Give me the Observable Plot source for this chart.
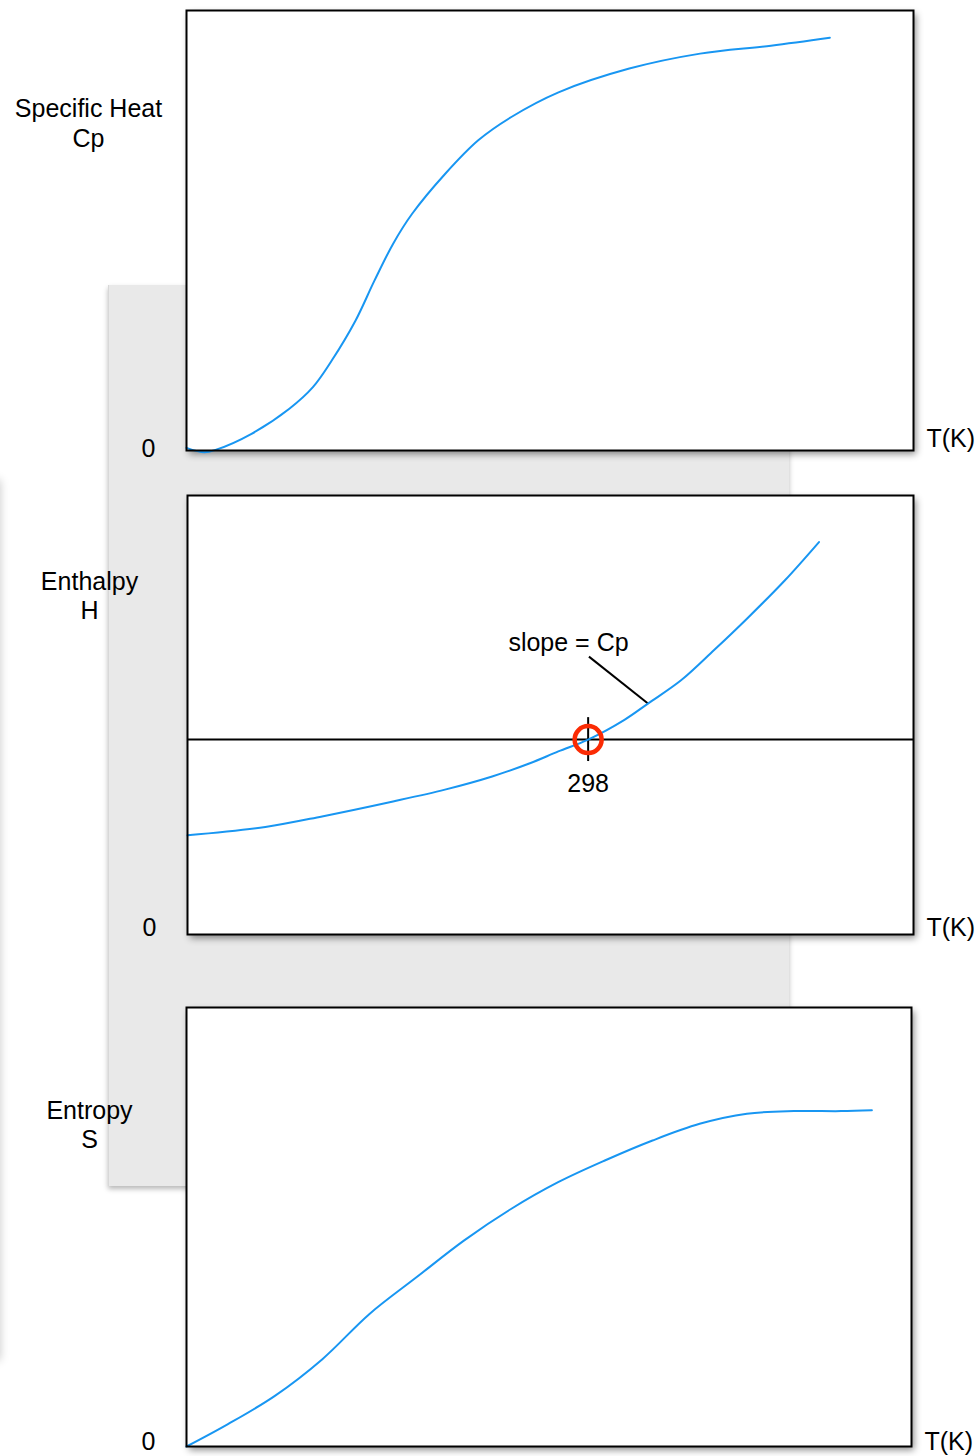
<!DOCTYPE html>
<html><head><meta charset="utf-8">
<script src="https://cdn.jsdelivr.net/npm/d3@7"></script>
<script src="https://cdn.jsdelivr.net/npm/@observablehq/plot@0.6"></script>
<style>
body{margin:0;background:#fff;}
#root{position:relative;width:979px;height:1456px;overflow:hidden;font-family:"Liberation Sans",Arial,Helvetica,sans-serif;background:#fff;}
.abs{position:absolute;}
</style></head><body><div id="root"></div>
<script>
// ---- data ----
const tDomain = [0, 540];
const valueDomain = [0, 100];

const cpT = [0, 13.3, 22.1, 48.3, 76.4, 93.9, 108, 125.5, 139.6, 153.5, 167.6, 192.2, 216.7, 241.3, 276.3, 328.9, 381.5, 434.1, 477.9];
const cpValues = [0.6, -0.4, 0.2, 3.8, 9.5, 14.4, 20.5, 29.5, 38.6, 47.0, 53.8, 62.9, 70.5, 75.8, 81.4, 86.8, 90.2, 92.0, 93.8];

const hT = [0, 57.9, 100.1, 152.9, 191.5, 226.6, 254.7, 275.8, 298, 325, 342.5, 367.1, 391.7, 416.3, 444.4, 469.7];
const hValues = [22.6, 24.5, 26.9, 30.3, 33.0, 36.0, 39.0, 41.7, 44.4, 48.9, 52.6, 57.9, 64.8, 72.0, 80.7, 89.4];

const sT = [0, 30.9, 66.1, 101.2, 136.3, 171.5, 206.6, 241.7, 276.8, 312, 347.1, 382.2, 417.4, 452.5, 487.6, 510.5];
const sValues = [0, 5.1, 11.6, 19.9, 30.2, 38.6, 46.9, 54.1, 60.2, 65.2, 69.7, 73.5, 75.8, 76.4, 76.4, 76.6];

const panelLabels = ["Specific Heat\nCp", "Enthalpy\nH", "Entropy\nS"];
const xLabel = "T(K)";
const yTicks = [0];

const refT = 298;          // reference temperature
const refH = 44.4;         // enthalpy at 298 K
const refTickSpan = [39.4, 49.4];
const slopeLabel = "slope = Cp";
const slopeLabelPos = {T: 283.4, H: 66.3};
const slopePointer = {T1: 298.6, H1: 63.3, T2: 342.5, H2: 52.6};
const refLabelH = 34.2;

// ---- layout ----
const root = document.getElementById("root");
function div(css) { const d = document.createElement("div"); d.className = "abs"; Object.assign(d.style, css); root.appendChild(d); return d; }

// decorative background elements
div({left: "-30px", top: "480px", width: "30px", height: "880px", background: "#fff", boxShadow: "0 0 9px rgba(0,0,0,0.22)"});
div({left: "108px", top: "285px", width: "681px", height: "901px", background: "#e9e9e9", boxShadow: "0 3px 5px rgba(0,0,0,0.28), inset 1px 0 0 #d8d8d8"});

const FONT = 25;
const BLUE = "#1896f2";
const STYLE = {background: "transparent", overflow: "visible", fontFamily: '"Liberation Sans", Arial, sans-serif', color: "#000"};

function panel({top, height, mL, mR, T, V, label, zeroDy, xLabelDy, labelDy, labelDx, extra = [], after = []}) {
  const mT = 10, mB = 10;
  // white card with shadow behind the frame
  div({left: mL + "px", top: (top + mT) + "px", width: (979 - mL - mR) + "px", height: (height - mT - mB) + "px",
       background: "#fff", boxShadow: "3px 4px 7px rgba(0,0,0,0.45)"});
  const data = T.map((t, i) => ({T: t, V: V[i]}));
  const svg = Plot.plot({
    width: 979, height,
    marginLeft: mL, marginRight: mR, marginTop: mT, marginBottom: mB,
    style: STYLE,
    x: {domain: tDomain, axis: null},
    y: {domain: valueDomain, axis: null},
    marks: [
      ...extra,
      Plot.line(data, {x: "T", y: "V", stroke: BLUE, strokeWidth: 2, curve: "catmull-rom"}),
      ...after,
      Plot.frame({stroke: "#000", strokeWidth: 2}),
      Plot.axisY(yTicks, {label: null, tickSize: 0, tickPadding: 31, fontSize: FONT, dy: zeroDy, tickFormat: d => String(d)}),
      Plot.text([xLabel], {frameAnchor: "bottom-right", textAnchor: "start", lineAnchor: "middle", dx: 13, dy: xLabelDy, fontSize: FONT, fill: "#000"}),
      Plot.text([label], {frameAnchor: "top-left", textAnchor: "middle", lineAnchor: "middle", dx: labelDx, dy: labelDy, fontSize: FONT, lineHeight: 1.18, fill: "#000"})
    ]
  });
  svg.classList.add("abs");
  svg.style.left = "0px";
  svg.style.top = top + "px";
  root.appendChild(svg);
}

panel({top: 0, height: 460, mL: 186, mR: 66, T: cpT, V: cpValues, label: panelLabels[0], zeroDy: -2, xLabelDy: -12, labelDy: 112, labelDx: -98});

const refExtra = [
  Plot.ruleY([refH], {stroke: "#000", strokeWidth: 2}),
  Plot.ruleX([refT], {y1: refTickSpan[0], y2: refTickSpan[1], stroke: "#000", strokeWidth: 2}),
  Plot.link([slopePointer], {x1: "T1", y1: "H1", x2: "T2", y2: "H2", stroke: "#000", strokeWidth: 2}),
  Plot.text([slopeLabel], {x: slopeLabelPos.T, y: slopeLabelPos.H, fontSize: FONT, fill: "#000"}),
  Plot.text([String(refT)], {x: refT, y: refLabelH, fontSize: FONT, fill: "#000"})
];
const refDot = Plot.dot([{T: refT, V: refH}], {x: "T", y: "V", r: 13.5, stroke: "#fb2b04", strokeWidth: 4.5, fill: "none"});

panel({top: 485, height: 459, mL: 187, mR: 66, T: hT, V: hValues, label: panelLabels[1], zeroDy: -7, xLabelDy: -7, labelDy: 99.5, labelDx: -98, extra: refExtra, after: [refDot]});
panel({top: 997, height: 459, mL: 186, mR: 68, T: sT, V: sValues, label: panelLabels[2], zeroDy: -5, xLabelDy: -5, labelDy: 116.5, labelDx: -97});
</script>
</body></html>
